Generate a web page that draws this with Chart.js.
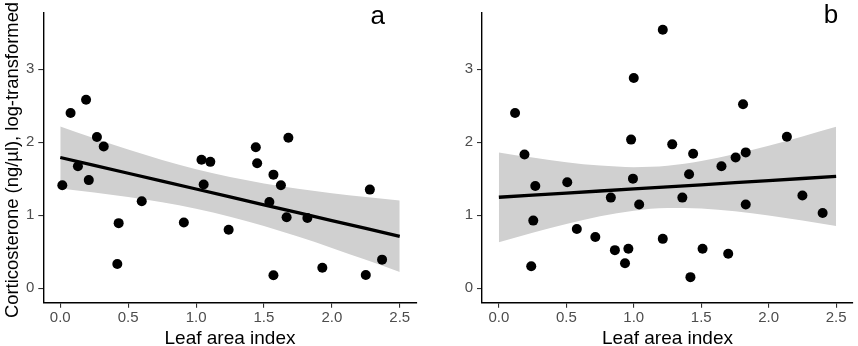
<!DOCTYPE html>
<html><head><meta charset="utf-8">
<script src="https://cdn.jsdelivr.net/npm/chart.js@4.4.1/dist/chart.umd.min.js"></script>
<style>
html,body{margin:0;padding:0;background:#fff;}
#wrap{position:relative;width:858px;height:346px;overflow:hidden;background:#fff;}
canvas{position:absolute;top:0;}
</style></head><body>
<div id="wrap">
<canvas id="ca" width="430" height="346" style="left:0px"></canvas>
<canvas id="cb" width="428" height="346" style="left:430px"></canvas>
</div>
<script>
// ---- tick labels ----
const xTicks = [0, 0.5, 1, 1.5, 2, 2.5];
const xTickLabels = ['0.0', '0.5', '1.0', '1.5', '2.0', '2.5'];
const yTicks = [0, 1, 2, 3];
const yTickLabels = ['0', '1', '2', '3'];
const xTitle = 'Leaf area index';
const yTitle = 'Corticosterone (ng/\u00b5l), log-transformed';
const panelLetters = ['a', 'b'];

// ---- panel a: observations ----
const leafA = [0.015, 0.076, 0.19, 0.13, 0.21, 0.27, 0.32, 0.42, 0.43, 0.60, 0.91, 1.04, 1.105, 1.056, 1.24, 1.44, 1.45, 1.57, 1.54, 1.625, 1.68, 1.667, 1.82, 1.57, 1.93, 2.25, 2.28, 2.37];
const cortA = [1.41, 2.40, 2.58, 1.67, 1.48, 2.07, 1.94, 0.33, 0.89, 1.19, 0.90, 1.76, 1.73, 1.42, 0.80, 1.93, 1.71, 1.555, 1.18, 1.41, 2.06, 0.97, 0.96, 0.175, 0.28, 0.18, 1.35, 0.39];

// ---- panel b: observations ----
const leafB = [0.12, 0.19, 0.27, 0.255, 0.24, 0.507, 0.578, 0.715, 0.83, 0.86, 0.96, 0.935, 0.98, 1.00, 0.994, 1.04, 1.215, 1.215, 1.285, 1.36, 1.41, 1.44, 1.42, 1.51, 1.65, 1.70, 1.755, 1.83, 1.81, 1.83, 2.135, 2.25, 2.40];
const cortB = [2.40, 1.83, 1.40, 0.925, 0.30, 1.45, 0.81, 0.70, 1.24, 0.52, 0.54, 0.34, 2.035, 2.88, 1.50, 1.145, 3.54, 0.675, 1.97, 1.24, 1.56, 1.84, 0.15, 0.54, 1.67, 0.47, 1.79, 1.86, 2.52, 1.145, 2.075, 1.27, 1.03];

// ---- fitted line and confidence band ----
const bandX  = [0, 0.25, 0.5, 0.75, 1.0, 1.25, 1.5, 1.75, 2.0, 2.25, 2.5];
const fitA   = [1.79, 1.682, 1.574, 1.466, 1.358, 1.25, 1.142, 1.034, 0.926, 0.818, 0.71];
const upperA = [2.215, 2.053, 1.898, 1.755, 1.628, 1.521, 1.434, 1.362, 1.301, 1.248, 1.20];
const lowerA = [1.365, 1.311, 1.25, 1.177, 1.088, 0.979, 0.850, 0.706, 0.551, 0.388, 0.22];
const fitB   = [1.245, 1.274, 1.302, 1.331, 1.359, 1.388, 1.416, 1.445, 1.473, 1.502, 1.53];
const upperB = [1.86, 1.789, 1.726, 1.679, 1.657, 1.677, 1.741, 1.838, 1.952, 2.079, 2.21];
const lowerB = [0.63, 0.759, 0.878, 0.983, 1.061, 1.099, 1.091, 1.052, 0.994, 0.925, 0.85];

const FONT = '"Liberation Sans", Arial, Helvetica, sans-serif';
const BAND = '#d0d0d0';

function pts(xs, ys) { return xs.map((x, i) => ({ x: x, y: ys[i] })); }

function makeChart(id, cfg) {
  const textPlugin = {
    id: 'panelText',
    afterDraw(chart) {
      const ctx = chart.ctx;
      ctx.save();
      ctx.fillStyle = '#000';
      ctx.font = '26px ' + FONT;
      ctx.textAlign = 'center';
      ctx.textBaseline = 'alphabetic';
      ctx.fillText(cfg.letter, cfg.letterX, cfg.letterY);
      if (cfg.showYTitle) {
        ctx.translate(17.5, 160);
        ctx.rotate(-Math.PI / 2);
        ctx.font = '18.4px ' + FONT;
        ctx.fillText(yTitle, 0, 0);
      }
      ctx.restore();
    }
  };
  return new Chart(document.getElementById(id), {
    type: 'scatter',
    data: {
      datasets: [
        { data: pts(cfg.xs, cfg.ys), backgroundColor: '#000', borderWidth: 0, pointRadius: 5, pointHoverRadius: 5 },
        { data: pts(bandX, cfg.fit), showLine: true, borderColor: '#000', borderWidth: 3.3, pointRadius: 0, fill: false },
        { data: pts(bandX, cfg.upper), showLine: true, borderWidth: 0, borderColor: 'rgba(0,0,0,0)', pointRadius: 0, backgroundColor: BAND, fill: '+1', cubicInterpolationMode: 'monotone' },
        { data: pts(bandX, cfg.lower), showLine: true, borderWidth: 0, borderColor: 'rgba(0,0,0,0)', pointRadius: 0, fill: false, cubicInterpolationMode: 'monotone' }
      ]
    },
    options: {
      responsive: false,
      animation: false,
      devicePixelRatio: 1,
      layout: { padding: { left: 0, right: cfg.padRight, top: 1, bottom: 0 } },
      plugins: { legend: { display: false }, tooltip: { enabled: false } },
      scales: {
        x: {
          type: 'linear', min: -0.125, max: 2.625,
          afterBuildTicks: s => { s.ticks = xTicks.map(v => ({ value: v })); },
          afterFit: s => { s.height = 43.3; },
          grid: { drawOnChartArea: false, drawTicks: true, tickLength: 5, color: '#333', lineWidth: 1.1 },
          border: { display: true, color: '#000', width: 1.4 },
          ticks: { color: '#4d4d4d', font: { family: FONT, size: 15 }, padding: 1.5, maxRotation: 0,
                   callback: (v) => xTickLabels[xTicks.indexOf(v)] },
          title: { display: true, text: xTitle, color: '#000', font: { family: FONT, size: 19, lineHeight: 0.8 }, padding: { top: 0, bottom: 0 } }
        },
        y: {
          type: 'linear', min: -0.2, max: 3.77,
          afterBuildTicks: s => { s.ticks = yTicks.map(v => ({ value: v })); },
          afterFit: s => { s.width = cfg.yWidth; },
          grid: { drawOnChartArea: false, drawTicks: true, tickLength: 5, color: '#333', lineWidth: 1.1 },
          border: { display: true, color: '#000', width: 1.4 },
          ticks: { color: '#4d4d4d', font: { family: FONT, size: 15 }, padding: 4,
                   callback: (v) => yTickLabels[yTicks.indexOf(v)] }
        }
      }
    },
    plugins: [textPlugin]
  });
}

makeChart('ca', { xs: leafA, ys: cortA, fit: fitA, upper: upperA, lower: lowerA,
  letter: panelLetters[0], letterX: 377.7, letterY: 24, showYTitle: true, yWidth: 43.3, padRight: 13.3 });
makeChart('cb', { xs: leafB, ys: cortB, fit: fitB, upper: upperB, lower: lowerB,
  letter: panelLetters[1], letterX: 401, letterY: 23.3, showYTitle: false, yWidth: 52, padRight: 2.7 });
</script>
</body></html>
